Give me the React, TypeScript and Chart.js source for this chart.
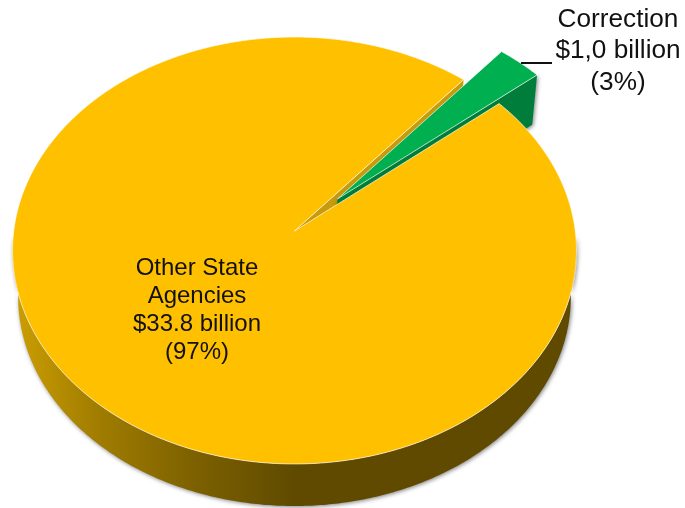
import React, { useEffect, useRef } from "react";
import { Chart, registerables } from "chart.js";

Chart.register(...registerables);

const categories = ["Correction", "Other State Agencies"];
const billions = [1.0, 33.8];
const correctionLabel = ["Correction", "$1,0 billion", "(3%)"];
const otherLabel = ["Other State", "Agencies", "$33.8 billion", "(97%)"];

const GOLD = "#FFC000";
const GREEN = "#00B050";
const GREEN_WALL = "#007D3A";
const GOLD_INNER = "#C79B0C";
const FONT = '"Liberation Sans", Arial, sans-serif';

// Projection of the unit disc onto the tilted, perspective view of the pie
const VIEW = { x0: 294.5, y0: 231, a: 280.8, b: 211.7, p: 0.0913, k: 0.98, y0Low: 277.7 };

type Off = { x: number; y: number };
const project = (u: number, v: number, low: boolean): [number, number] => {
  const w = 1 - VIEW.p * v;
  const k = low ? VIEW.k : 1;
  return [VIEW.x0 + (k * VIEW.a * u) / w, (low ? VIEW.y0Low : VIEW.y0) + (k * VIEW.b * v) / w];
};
const onRim = (angle: number, off: Off, low: boolean) =>
  project(off.x + Math.cos(angle), off.y + Math.sin(angle), low);

const samples = (from: number, to: number) => {
  const n = Math.max(2, Math.ceil(Math.abs(to - from) / 0.01));
  return Array.from({ length: n + 1 }, (_, i) => from + ((to - from) * i) / n);
};

const polygon = (ctx: CanvasRenderingContext2D, pts: [number, number][]) => {
  ctx.beginPath();
  pts.forEach(([x, y], i) => (i ? ctx.lineTo(x, y) : ctx.moveTo(x, y)));
  ctx.closePath();
};

const withShadow = (ctx: CanvasRenderingContext2D, paint: () => void) => {
  ctx.save();
  ctx.shadowColor = "rgba(0,0,0,0.5)";
  ctx.shadowBlur = 4;
  ctx.shadowOffsetX = 1;
  ctx.shadowOffsetY = 1;
  paint();
  ctx.restore();
};

const piePlugin = {
  id: "tiltedPie",
  beforeDatasetsDraw(chart: any) {
    const ctx: CanvasRenderingContext2D = chart.ctx;
    const [greenArc, goldArc] = chart.getDatasetMeta(0).data as any[];

    const offsetOf = (arc: any): Off => {
      const mid = (arc.startAngle + arc.endAngle) / 2;
      const d = (arc.options.offset || 0) / arc.outerRadius;
      return { x: d * Math.cos(mid), y: d * Math.sin(mid) };
    };
    const goldOff = offsetOf(goldArc);
    const greenOff = offsetOf(greenArc);

    // gold rim, only the part facing the viewer
    const rimAngles = samples(0.02, Math.PI - 0.02);
    const rim: [number, number][] = [
      ...rimAngles.map((a) => onRim(a, goldOff, false)),
      ...[...rimAngles].reverse().map((a) => onRim(a, goldOff, true)),
    ];
    const grad = ctx.createLinearGradient(15, 0, 295, 0);
    grad.addColorStop(0, "#CC9E00");
    grad.addColorStop(0.3, "#A07C00");
    grad.addColorStop(0.65, "#7C6000");
    grad.addColorStop(1, "#5F4A00");
    withShadow(ctx, () => {
      polygon(ctx, rim);
      ctx.fillStyle = grad;
      ctx.fill();
    });

    // gold cut face seen through the notch
    const goldEnd = goldArc.endAngle;
    polygon(ctx, [
      project(goldOff.x, goldOff.y, false),
      onRim(goldEnd, goldOff, false),
      onRim(goldEnd, goldOff, true),
      project(goldOff.x, goldOff.y, true),
    ]);
    ctx.fillStyle = GOLD_INNER;
    ctx.fill();

    // green sides
    const gEnd = greenArc.endAngle;
    withShadow(ctx, () => {
      polygon(ctx, [
        project(greenOff.x, greenOff.y, false),
        onRim(gEnd, greenOff, false),
        onRim(gEnd, greenOff, true),
        project(greenOff.x, greenOff.y, true),
      ]);
      ctx.fillStyle = GREEN_WALL;
      ctx.fill();
    });

    const face = (arc: any, off: Off, fill: string) => {
      polygon(ctx, [
        project(off.x, off.y, false),
        ...samples(arc.startAngle, arc.endAngle).map((a) => onRim(a, off, false)),
      ]);
      ctx.fillStyle = fill;
      ctx.fill();
      ctx.strokeStyle = "rgba(255,255,255,0.65)";
      ctx.lineWidth = 1;
      ctx.lineJoin = "round";
      ctx.stroke();
    };
    face(goldArc, goldOff, GOLD);
    face(greenArc, greenOff, GREEN);
    return false;
  },
  afterDraw(chart: any) {
    const ctx: CanvasRenderingContext2D = chart.ctx;
    ctx.save();
    ctx.strokeStyle = "#111";
    ctx.lineWidth = 2;
    ctx.beginPath();
    ctx.moveTo(521, 63);
    ctx.lineTo(552, 63);
    ctx.stroke();

    ctx.fillStyle = "#111";
    ctx.textAlign = "center";
    ctx.textBaseline = "middle";
    ctx.font = `26.2px ${FONT}`;
    correctionLabel.forEach((line, i) => ctx.fillText(line, 618, 19.5 + i * 31.5));
    ctx.font = `24px ${FONT}`;
    otherLabel.forEach((line, i) => ctx.fillText(line, 197, 268 + i * 28));
    ctx.restore();
  },
};

export default function App() {
  const ref = useRef<HTMLCanvasElement>(null);
  useEffect(() => {
    const chart = new Chart(ref.current!, {
      type: "pie",
      data: {
        labels: categories,
        datasets: [
          {
            data: billions,
            backgroundColor: [GREEN, GOLD],
            borderWidth: 0,
            offset: [50, 0],
          } as any,
        ],
      },
      options: {
        animation: false,
        responsive: false,
        devicePixelRatio: 1,
        rotation: 40.1,
        events: [],
        plugins: { legend: { display: false }, tooltip: { enabled: false } },
      },
      plugins: [piePlugin],
    } as any);
    return () => chart.destroy();
  }, []);
  return (
    <div style={{ position: "fixed", left: 0, top: 0, width: 685, height: 508, background: "#fff" }}>
      <canvas ref={ref} width={685} height={508} style={{ display: "block" }} />
    </div>
  );
}
